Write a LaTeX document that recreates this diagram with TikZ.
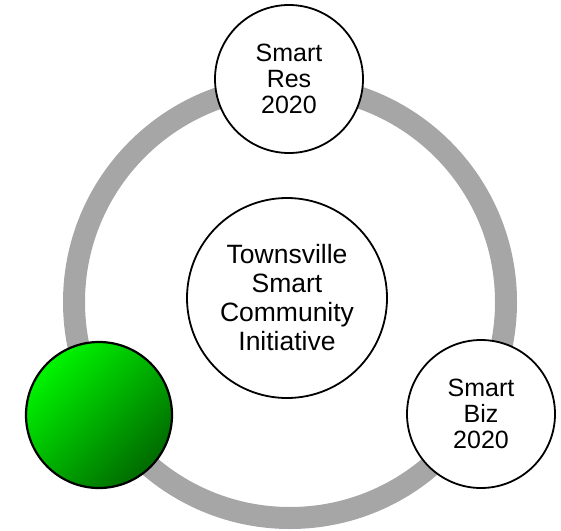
\documentclass[tikz,border=0pt]{standalone}
\usepackage{fontspec}
\setmainfont{Liberation Sans}
\definecolor{ringgray}{HTML}{A6A6A6}
\definecolor{greenlight}{HTML}{00F500}
\definecolor{greendark}{HTML}{006A00}
\begin{document}
\begin{tikzpicture}[x=1pt,y=-1pt,
  ringline/.style={draw=ringgray, line width=22pt},
  bubble/.style={circle, draw=black, line width=1.8pt, fill=white, inner sep=0pt,
    minimum size=148pt, align=center, font=\fontsize{25}{26}\selectfont},
  hubbubble/.style={circle, draw=black, line width=1.8pt, fill=white, inner sep=0pt,
    minimum size=200pt, align=center, font=\fontsize{26.5}{29}\selectfont},
  greenbubble/.style={circle, draw=black, line width=2.2pt, inner sep=0pt,
    minimum size=146pt, top color=greenlight, bottom color=greendark, shading angle=45}]
\useasboundingbox (0,0) rectangle (561,530);
\coordinate (hub) at (290,302);
\draw[ringline] (hub) circle[radius=216];
\node[hubbubble] (center) at (287,298) {Townsville\\Smart\\Community\\Initiative};
\node[bubble] (res) at (289,79) {Smart\\Res\\2020};
\node[bubble] (biz) at (481,414) {Smart\\Biz\\2020};
\node[greenbubble] (green) at (99,415) {};
\end{tikzpicture}
\end{document}
